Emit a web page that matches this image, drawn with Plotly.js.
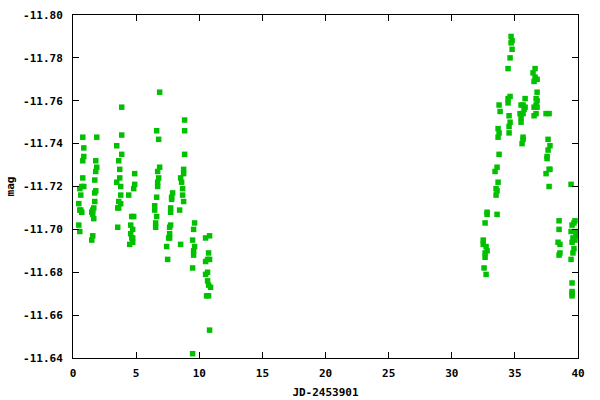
<!DOCTYPE html>
<html>
<head>
<meta charset="utf-8">
<script src="https://cdn.plot.ly/plotly-3.0.1.min.js"></script>
<style>html,body{margin:0;padding:0;background:#fff;}#chart{width:600px;height:400px;}</style>
</head>
<body>
<div id="chart"></div>
<script>
// Julian date offsets (JD-2453901)
const jd = [
  0.775,0.854,0.854,0.775,0.775,0.696,0.854,0.538,0.617,0.459,0.538,0.617,0.696,0.459,0.538,
  1.882,1.803,1.882,1.803,1.724,1.803,1.724,1.724,1.645,1.566,1.487,1.566,1.645,1.566,1.487,
  3.859,3.859,3.464,3.859,3.622,3.701,3.701,3.464,3.780,3.780,3.622,3.780,3.622,3.543,3.543,
  4.887,4.887,4.808,4.413,4.808,4.650,4.571,4.729,4.571,4.729,4.650,4.729,4.492,
  6.864,6.627,6.785,6.864,6.706,6.785,6.706,6.706,6.627,6.469,6.469,6.627,6.548,6.548,
  7.892,7.813,7.813,7.734,7.734,7.734,7.655,7.655,7.655,7.576,7.418,7.497,
  8.841,8.841,8.841,8.762,8.762,8.525,8.604,8.683,8.683,8.762,8.446,8.525,
  9.632,9.553,9.474,9.632,9.553,9.553,9.474,9.474,
  10.502,10.818,10.739,10.660,10.818,10.502,10.660,10.502,10.660,10.739,10.897,10.581,10.739,10.818,
  32.80,32.80,32.64,32.49,32.49,32.72,32.80,32.64,32.64,32.56,32.72,
  33.75,33.83,33.67,33.75,33.67,33.75,33.59,33.43,33.67,33.51,33.59,33.51,33.59,
  34.70,34.78,34.70,34.78,34.62,34.46,34.62,34.46,34.46,34.54,34.62,34.54,34.54,
  35.81,35.49,35.65,35.81,35.73,35.41,35.65,35.49,35.49,35.65,35.65,35.57,
  36.60,36.44,36.60,36.76,36.52,36.76,36.68,36.76,36.68,36.52,36.76,36.68,36.52,
  37.47,37.71,37.63,37.78,37.63,37.55,37.55,37.71,37.78,37.47,37.71,
  38.50,38.50,38.42,38.57,38.57,38.50,
  39.45,39.76,39.68,39.53,39.84,39.45,39.84,39.60,39.76,39.53,39.68,39.60,39.45,39.53,39.53,39.53,39.53
];
// Magnitudes
const mag = [
  -11.743,-11.738,-11.734,-11.732,-11.724,-11.720,-11.720,-11.719,-11.716,-11.712,-11.709,-11.709,-11.708,-11.702,-11.699,
  -11.743,-11.732,-11.729,-11.727,-11.723,-11.718,-11.717,-11.713,-11.710,-11.709,-11.708,-11.707,-11.705,-11.697,-11.695,
  -11.744,-11.757,-11.739,-11.735,-11.732,-11.728,-11.724,-11.722,-11.720,-11.716,-11.713,-11.712,-11.710,-11.710,-11.701,
  -11.726,-11.721,-11.719,-11.716,-11.706,-11.706,-11.702,-11.700,-11.698,-11.696,-11.696,-11.694,-11.693,
  -11.764,-11.746,-11.742,-11.729,-11.727,-11.724,-11.722,-11.720,-11.715,-11.711,-11.709,-11.706,-11.703,-11.701,
  -11.717,-11.715,-11.714,-11.710,-11.708,-11.702,-11.701,-11.698,-11.696,-11.696,-11.692,-11.686,
  -11.751,-11.746,-11.735,-11.728,-11.726,-11.724,-11.722,-11.719,-11.716,-11.713,-11.709,-11.693,
  -11.703,-11.700,-11.695,-11.692,-11.690,-11.688,-11.682,-11.642,
  -11.696,-11.697,-11.689,-11.686,-11.686,-11.685,-11.680,-11.679,-11.676,-11.674,-11.673,-11.669,-11.669,-11.653,
  -11.708,-11.707,-11.703,-11.695,-11.693,-11.692,-11.690,-11.689,-11.687,-11.682,-11.679,
  -11.758,-11.755,-11.747,-11.745,-11.743,-11.735,-11.729,-11.727,-11.722,-11.719,-11.718,-11.716,-11.707,
  -11.790,-11.788,-11.787,-11.784,-11.780,-11.775,-11.762,-11.761,-11.759,-11.753,-11.750,-11.748,-11.745,
  -11.761,-11.758,-11.758,-11.757,-11.756,-11.754,-11.754,-11.752,-11.750,-11.743,-11.742,-11.740,
  -11.775,-11.773,-11.771,-11.770,-11.769,-11.764,-11.761,-11.760,-11.758,-11.757,-11.757,-11.754,-11.753,
  -11.754,-11.754,-11.742,-11.739,-11.737,-11.734,-11.733,-11.728,-11.728,-11.726,-11.720,
  -11.704,-11.700,-11.694,-11.693,-11.689,-11.688,
  -11.721,-11.704,-11.703,-11.702,-11.699,-11.699,-11.697,-11.696,-11.695,-11.694,-11.691,-11.689,-11.686,-11.675,-11.671,-11.670,-11.669
];
const xTickVals = [0,5,10,15,20,25,30,35,40];
const xTickText = ['0','5','10','15','20','25','30','35','40'];
const yTickVals = [-11.80,-11.78,-11.76,-11.74,-11.72,-11.70,-11.68,-11.66,-11.64];
const yTickText = ['-11.80','-11.78','-11.76','-11.74','-11.72','-11.70','-11.68','-11.66','-11.64'];

const font = {family: '"DejaVu Sans Mono", monospace', size: 11, color: '#000', weight: 'bold'};

const trace = {
  x: jd, y: mag, type: 'scatter', mode: 'markers',
  marker: {symbol: 'square', size: 5.5, color: '#00c000', line: {width: 0}},
  cliponaxis: false, hoverinfo: 'none'
};

const axisCommon = {
  showgrid: false, zeroline: false, showline: true, linecolor: '#000', linewidth: 1,
  mirror: 'allticks', ticks: 'inside', ticklen: 6, tickcolor: '#000', tickwidth: 1,
  tickfont: font, tickmode: 'array'
};

const layout = {
  width: 600, height: 400,
  margin: {l: 72.5, r: 21.7, t: 15, b: 41.7},
  paper_bgcolor: '#fff', plot_bgcolor: '#fff',
  showlegend: false,
  font: font,
  xaxis: Object.assign({}, axisCommon, {
    range: [0, 40], tickvals: xTickVals, ticktext: xTickText, ticklabelstandoff: 5,
    title: {text: 'JD-2453901', font: font, standoff: 9}
  }),
  yaxis: Object.assign({}, axisCommon, {
    range: [-11.64, -11.80], tickvals: yTickVals, ticktext: yTickText, ticklabelstandoff: 7,
    title: {text: 'mag', font: font, standoff: 6}
  })
};

Plotly.newPlot('chart', [trace], layout, {staticPlot: true, displayModeBar: false});
</script>
</body>
</html>
